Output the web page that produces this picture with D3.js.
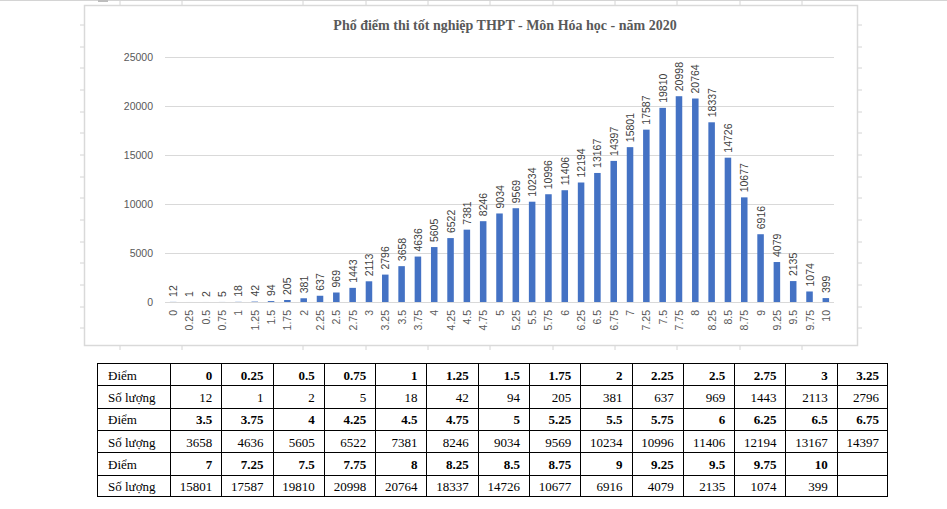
<!DOCTYPE html>
<html>
<head>
<meta charset="utf-8">
<script src="https://cdn.jsdelivr.net/npm/d3@7"></script>
<style>
  body { margin: 0; background: #fff; }
  svg { display: block; }
  .grid line { stroke: #d9d9d9; }
  .axis text { font-family: "Liberation Sans", sans-serif; font-size: 10.5px; fill: #595959; }
  .val { font-family: "Liberation Sans", sans-serif; font-size: 10.5px; fill: #404040; }
  .title { font-family: "Liberation Serif", serif; font-weight: bold; font-size: 14px; fill: #595959; }
  .tbl text { font-family: "Liberation Serif", serif; font-size: 13px; fill: #000; }
</style>
</head>
<body>
<svg width="947" height="509"></svg>
<script>
  const TITLE = 'Phổ điểm thi tốt nghiệp THPT - Môn Hóa học - năm 2020';
  const scores = ['0','0.25','0.5','0.75','1','1.25','1.5','1.75','2','2.25','2.5','2.75','3','3.25',
    '3.5','3.75','4','4.25','4.5','4.75','5','5.25','5.5','5.75','6','6.25','6.5','6.75',
    '7','7.25','7.5','7.75','8','8.25','8.5','8.75','9','9.25','9.5','9.75','10'];
  const counts = [12,1,2,5,18,42,94,205,381,637,969,1443,2113,2796,
    3658,4636,5605,6522,7381,8246,9034,9569,10234,10996,11406,12194,13167,14397,
    15801,17587,19810,20998,20764,18337,14726,10677,6916,4079,2135,1074,399];
  const yTicks = [0, 5000, 10000, 15000, 20000, 25000];
  const rowLabels = ['Điểm', 'Số lượng'];

  const svg = d3.select('svg');

  // khung bang tinh phia sau
  svg.append('line').attr('x1', 0).attr('x2', 947).attr('y1', 0.5).attr('y2', 0.5)
    .attr('stroke', '#d4d4d4');
  svg.append('rect').attr('x', 98).attr('y', 0).attr('width', 10).attr('height', 2).attr('fill', '#bdbdbd');
  [25, 47, 68, 90, 112, 133, 155, 177, 198, 220, 242, 263, 285, 307, 328].forEach(y => {
    svg.append('line').attr('x1', 80).attr('x2', 84).attr('y1', y).attr('y2', y).attr('stroke', '#d4d4d4');
    svg.append('line').attr('x1', 858).attr('x2', 862).attr('y1', y).attr('y2', y).attr('stroke', '#d4d4d4');
  });
  [120, 182, 303, 366, 428, 490, 553, 615, 677, 740, 802].forEach(x => {
    svg.append('line').attr('x1', x).attr('x2', x).attr('y1', 1).attr('y2', 5).attr('stroke', '#d4d4d4');
    svg.append('line').attr('x1', x).attr('x2', x).attr('y1', 346).attr('y2', 350).attr('stroke', '#d4d4d4');
  });

  // vung bieu do
  svg.append('rect')
    .attr('x', 84.5).attr('y', 5.5).attr('width', 773).attr('height', 340)
    .attr('fill', '#fff').attr('stroke', '#d9d9d9').attr('stroke-width', 1.5);

  svg.append('text').attr('class', 'title')
    .attr('x', 505).attr('y', 30).attr('text-anchor', 'middle')
    .text(TITLE);

  const x = d3.scaleBand().domain(scores).range([165, 834])
    .paddingInner(0.6).paddingOuter(0.3);
  const y = d3.scaleLinear().domain([0, 25000]).range([302, 57]);

  const grid = svg.append('g').attr('class', 'grid');
  grid.selectAll('line').data(yTicks).join('line')
    .attr('x1', 165).attr('x2', 834)
    .attr('y1', d => Math.round(y(d)) + 0.5).attr('y2', d => Math.round(y(d)) + 0.5);

  const yAxis = svg.append('g').attr('class', 'axis')
    .attr('transform', 'translate(153,0)')
    .call(d3.axisLeft(y).tickValues(yTicks).tickSize(0).tickPadding(0).tickFormat(d3.format('d')));
  yAxis.select('.domain').remove();

  const xAxis = svg.append('g').attr('class', 'axis')
    .attr('transform', 'translate(0,302)')
    .call(d3.axisBottom(x).tickSize(0).tickPadding(0));
  xAxis.select('.domain').remove();
  xAxis.selectAll('text')
    .attr('text-anchor', 'end')
    .attr('dy', null)
    .attr('dominant-baseline', 'central')
    .attr('transform', 'translate(0,8) rotate(-90)')
    .attr('y', 0).attr('x', 0);

  const data = scores.map((s, i) => ({ s, v: counts[i] }));

  svg.append('g').selectAll('rect').data(data).join('rect')
    .attr('x', d => x(d.s)).attr('width', x.bandwidth())
    .attr('y', d => y(d.v)).attr('height', d => y(0) - y(d.v))
    .attr('fill', '#4472c4');

  svg.append('g').selectAll('text').data(data).join('text')
    .attr('class', 'val')
    .attr('dominant-baseline', 'central')
    .attr('transform', d => `translate(${x(d.s) + x.bandwidth() / 2},${y(d.v) - 5}) rotate(-90)`)
    .text(d => d.v);

  // bang so lieu
  const perRow = 14;
  const chunks = d3.range(0, scores.length, perRow).map(i => ({
    s: scores.slice(i, i + perRow),
    v: counts.slice(i, i + perRow)
  }));
  const rows = [];
  chunks.forEach(c => {
    rows.push({ label: rowLabels[0], cells: c.s, bold: true });
    rows.push({ label: rowLabels[1], cells: c.v, bold: false });
  });

  const tx = d3.scaleLinear().domain([0, perRow]).range([170, 888]);
  const ty = d3.scaleLinear().domain([0, rows.length]).range([363, 497]);
  const tbl = svg.append('g').attr('class', 'tbl');

  tbl.append('rect').attr('x', 97.5).attr('y', 363.5)
    .attr('width', 790).attr('height', 133)
    .attr('fill', 'none').attr('stroke', '#000');
  d3.range(0, perRow).forEach(i => {
    tbl.append('line').attr('x1', Math.round(tx(i)) + 0.5).attr('x2', Math.round(tx(i)) + 0.5)
      .attr('y1', 363).attr('y2', 497).attr('stroke', '#000');
  });
  d3.range(1, rows.length).forEach(r => {
    tbl.append('line').attr('x1', 97).attr('x2', 888)
      .attr('y1', Math.round(ty(r)) + 0.5).attr('y2', Math.round(ty(r)) + 0.5).attr('stroke', '#000');
  });

  rows.forEach((row, r) => {
    const cy = ty(r + 0.5) + 1;
    tbl.append('text').attr('x', 108).attr('y', cy)
      .attr('dominant-baseline', 'central').text(row.label);
    row.cells.forEach((c, i) => {
      tbl.append('text')
        .attr('x', tx(i + 1) - 9).attr('y', cy)
        .attr('text-anchor', 'end').attr('dominant-baseline', 'central')
        .attr('font-weight', row.bold ? 'bold' : null)
        .text(c);
    });
  });
</script>
</body>
</html>
